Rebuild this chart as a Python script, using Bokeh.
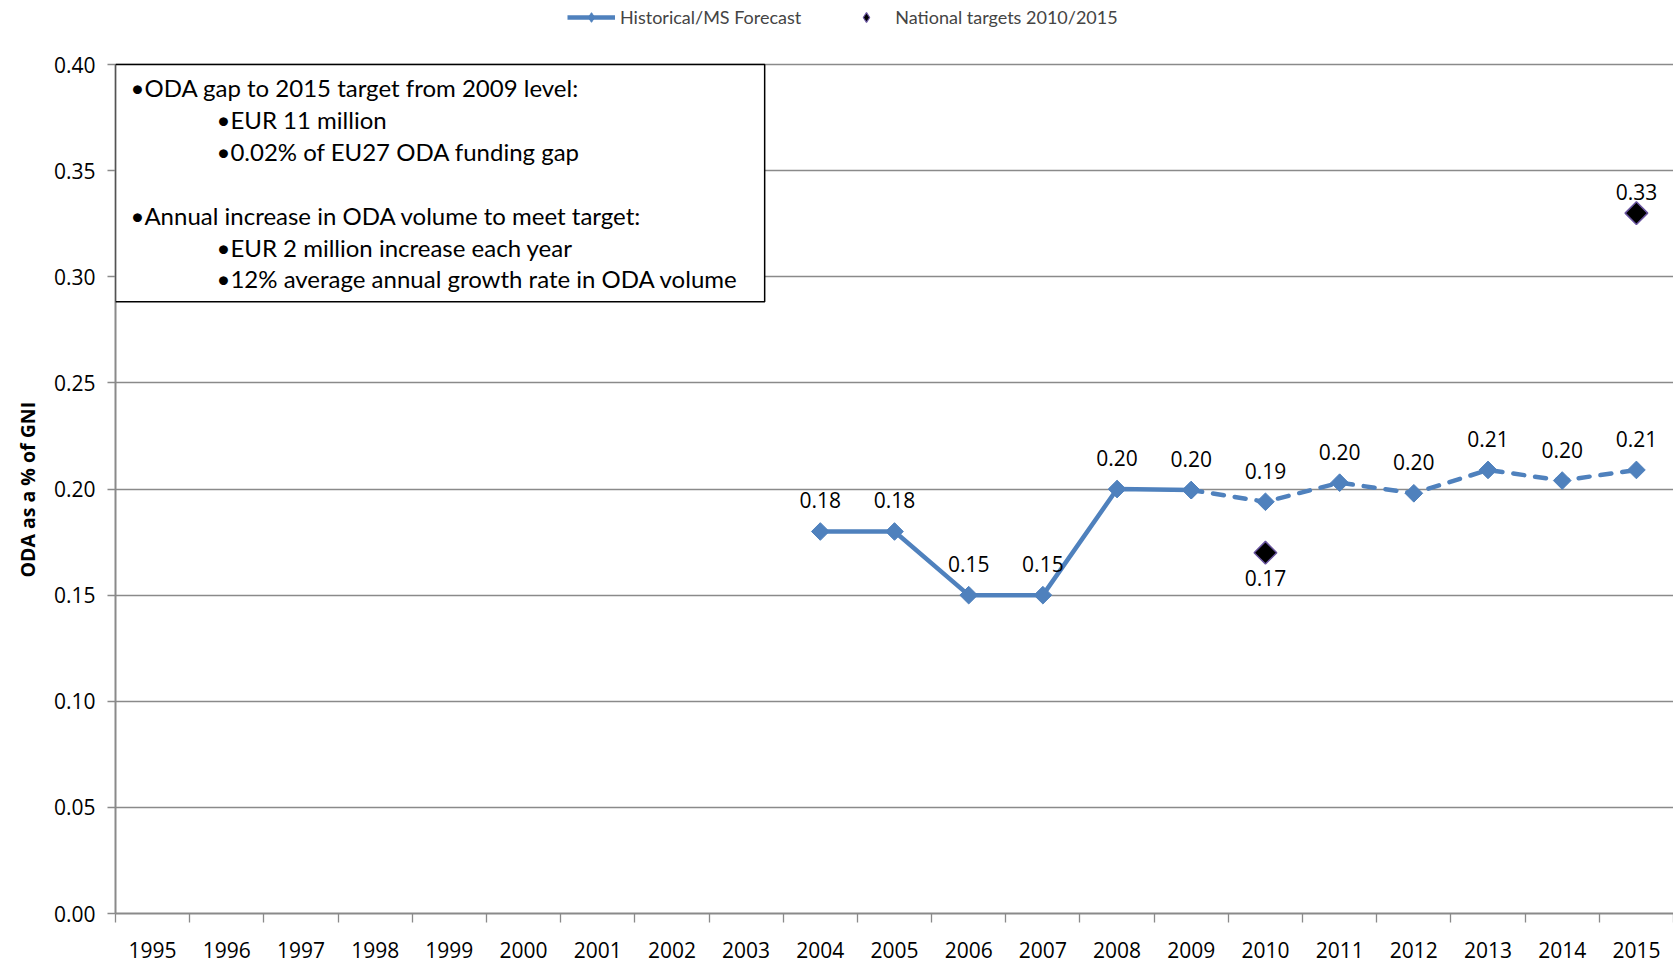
import math
from bokeh.plotting import figure
from bokeh.models import (FixedTicker, Range1d, BoxAnnotation, Label, Legend,
                          LegendItem, PrintfTickFormatter, Title)
from bokeh.embed import file_html
from bokeh.resources import INLINE
from bokeh.core.properties import value

# ---------------- data ----------------
years = list(range(1995, 2016))
hist_years = [2004, 2005, 2006, 2007, 2008, 2009]
hist_vals = [0.18, 0.18, 0.15, 0.15, 0.20, 0.1995]
fc_years = [2009, 2010, 2011, 2012, 2013, 2014, 2015]
fc_vals = [0.1995, 0.194, 0.203, 0.198, 0.209, 0.204, 0.209]
target_years = [2010, 2015]
target_vals = [0.17, 0.33]
y_ticks = [0.0, 0.05, 0.10, 0.15, 0.20, 0.25, 0.30, 0.35, 0.40]
y_title = "ODA as a % of GNI"
series_names = ["Historical/MS Forecast", "National targets 2010/2015"]
box_lines_lvl1 = ["\u2022ODA gap to 2015  target from 2009  level:",
                  "\u2022Annual increase in ODA volume to meet target:"]
box_lines_lvl2a = ["\u2022EUR 11 million",
                   "\u20220.02% of EU27 ODA funding gap"]
box_lines_lvl2b = ["\u2022EUR 2 million  increase each year",
                   "\u202212% average annual growth rate in ODA volume"]

BLUE = "#4F81BD"
GRID = "#8A8A8A"
PURPLE = "#6A55A0"
LABEL_FONT = value("Open Sans")
Y_MAX = y_ticks[-1]
Y_TOP = 0.4302  # extra room above the 0.40 line for the legend

p = figure(width=1673, height=964, output_backend="svg", toolbar_location=None,
           x_range=Range1d(years[0] - 0.5, years[-1] + 0.5),
           y_range=Range1d(0, Y_TOP),
           min_border_left=115, min_border_right=0, min_border_top=0,
           min_border_bottom=51)
p.outline_line_color = None
p.background_fill_color = "white"

# axes
p.xaxis.ticker = FixedTicker(ticks=years,
                             minor_ticks=[y - 0.5 for y in years] + [years[-1] + 0.5])
p.xaxis.major_tick_line_color = None
p.xaxis.major_tick_out = 9
p.xaxis.major_tick_in = 0
p.xaxis.minor_tick_out = 9
p.xaxis.minor_tick_in = 0
p.xaxis.minor_tick_line_color = GRID
p.xaxis.minor_tick_line_width = 1.3
p.xaxis.axis_line_color = GRID
p.xaxis.axis_line_width = 2
p.xaxis.major_label_standoff = 19
p.xaxis.major_label_text_font = "Open Sans"
p.xaxis.major_label_text_font_size = "21px"
p.xaxis.major_label_text_color = "black"

p.yaxis.ticker = FixedTicker(ticks=y_ticks, minor_ticks=[])
p.yaxis.bounds = (0, Y_MAX)
p.yaxis.formatter = PrintfTickFormatter(format="%.2f")
p.yaxis.major_tick_out = 8
p.yaxis.major_tick_in = 0
p.yaxis.major_tick_line_color = GRID
p.yaxis.major_tick_line_width = 1.3
p.yaxis.axis_line_color = GRID
p.yaxis.axis_line_width = 2
p.yaxis.major_label_standoff = 12
p.yaxis.major_label_text_font = "Open Sans"
p.yaxis.major_label_text_font_size = "21px"
p.yaxis.major_label_text_color = "black"

# y-axis title (placed along the 0-0.40 part of the axis)
p.add_layout(Title(text=y_title, align="left", offset=336, standoff=20,
                   text_font="Open Sans", text_font_style="bold",
                   text_font_size="19.5px", text_color="black"), "left")

p.xgrid.grid_line_color = None
p.ygrid.ticker = FixedTicker(ticks=y_ticks)
p.ygrid.grid_line_color = GRID
p.ygrid.grid_line_width = 1.3

# series
hist_line = p.line(hist_years, hist_vals, line_color=BLUE, line_width=4.5)
fc_line = p.line(fc_years, fc_vals, line_color=BLUE, line_width=4.5,
                 line_dash="11 11", line_cap="round")
# plain diamonds (used for the legend swatches; covered by the wider markers)
hist_dia = p.scatter(hist_years, hist_vals, marker="diamond", size=12,
                     fill_color=BLUE, line_color=BLUE)
tgt_dia = p.scatter(target_years, target_vals, marker="diamond", size=14,
                    fill_color="black", line_color=PURPLE, line_width=1.2)
hist_pts = p.scatter(hist_years, hist_vals, marker="square", angle=math.pi / 4,
                     size=12.5, fill_color=BLUE, line_color=BLUE)
fc_pts = p.scatter(fc_years, fc_vals, marker="square", angle=math.pi / 4,
                   size=12.5, fill_color=BLUE, line_color=BLUE)
tgt_pts = p.scatter(target_years, target_vals, marker="square", angle=math.pi / 4,
                    size=16, fill_color="black", line_color=PURPLE, line_width=1.5)

# data labels
lab_years = hist_years[:-1] + fc_years
lab_vals = hist_vals[:-1] + fc_vals
p.text(lab_years, lab_vals, text=[f"{v:.2f}" for v in lab_vals], y_offset=-31,
       text_align="center", text_baseline="middle", text_font=LABEL_FONT,
       text_font_size="21px", text_color="black")
p.text(target_years[:1], target_vals[:1], text=[f"{v:.2f}" for v in target_vals[:1]],
       y_offset=25, text_align="center", text_baseline="middle", text_font=LABEL_FONT,
       text_font_size="21px", text_color="black")
p.text(target_years[1:], target_vals[1:], text=[f"{v:.2f}" for v in target_vals[1:]],
       y_offset=-21, text_align="center", text_baseline="middle", text_font=LABEL_FONT,
       text_font_size="21px", text_color="black")

# text box
box = BoxAnnotation(left=years[0] - 0.5, right=2003.25, top=Y_MAX, bottom=0.2883,
                    fill_color="white", fill_alpha=1.0, line_color="black",
                    line_width=1.5, line_alpha=1.0)
p.add_layout(box)

box_entries = [
    (box_lines_lvl1[0], 15, -23),
    (box_lines_lvl2a[0], 101, -55),
    (box_lines_lvl2a[1], 101, -87),
    (box_lines_lvl1[1], 15, -151),
    (box_lines_lvl2b[0], 101, -183),
    (box_lines_lvl2b[1], 101, -214),
]
for txt, dx, dy in box_entries:
    p.add_layout(Label(x=years[0] - 0.5, y=Y_MAX, x_offset=dx, y_offset=dy, text=txt,
                       text_font="Lato", text_font_size="24px",
                       text_baseline="middle", text_align="left", text_color="black"))

# legend
legend = Legend(items=[LegendItem(label=series_names[0], renderers=[hist_line, hist_dia]),
                       LegendItem(label=series_names[1], renderers=[tgt_dia])],
                orientation="horizontal", location=(452, 884),
                glyph_width=48, glyph_height=24, label_standoff=5, spacing=41,
                padding=0, margin=0, border_line_color=None,
                background_fill_alpha=0.0,
                label_text_font="Lato", label_text_font_size="18px")
p.add_layout(legend, "center")

open("out.html", "w").write(file_html(p, INLINE))
